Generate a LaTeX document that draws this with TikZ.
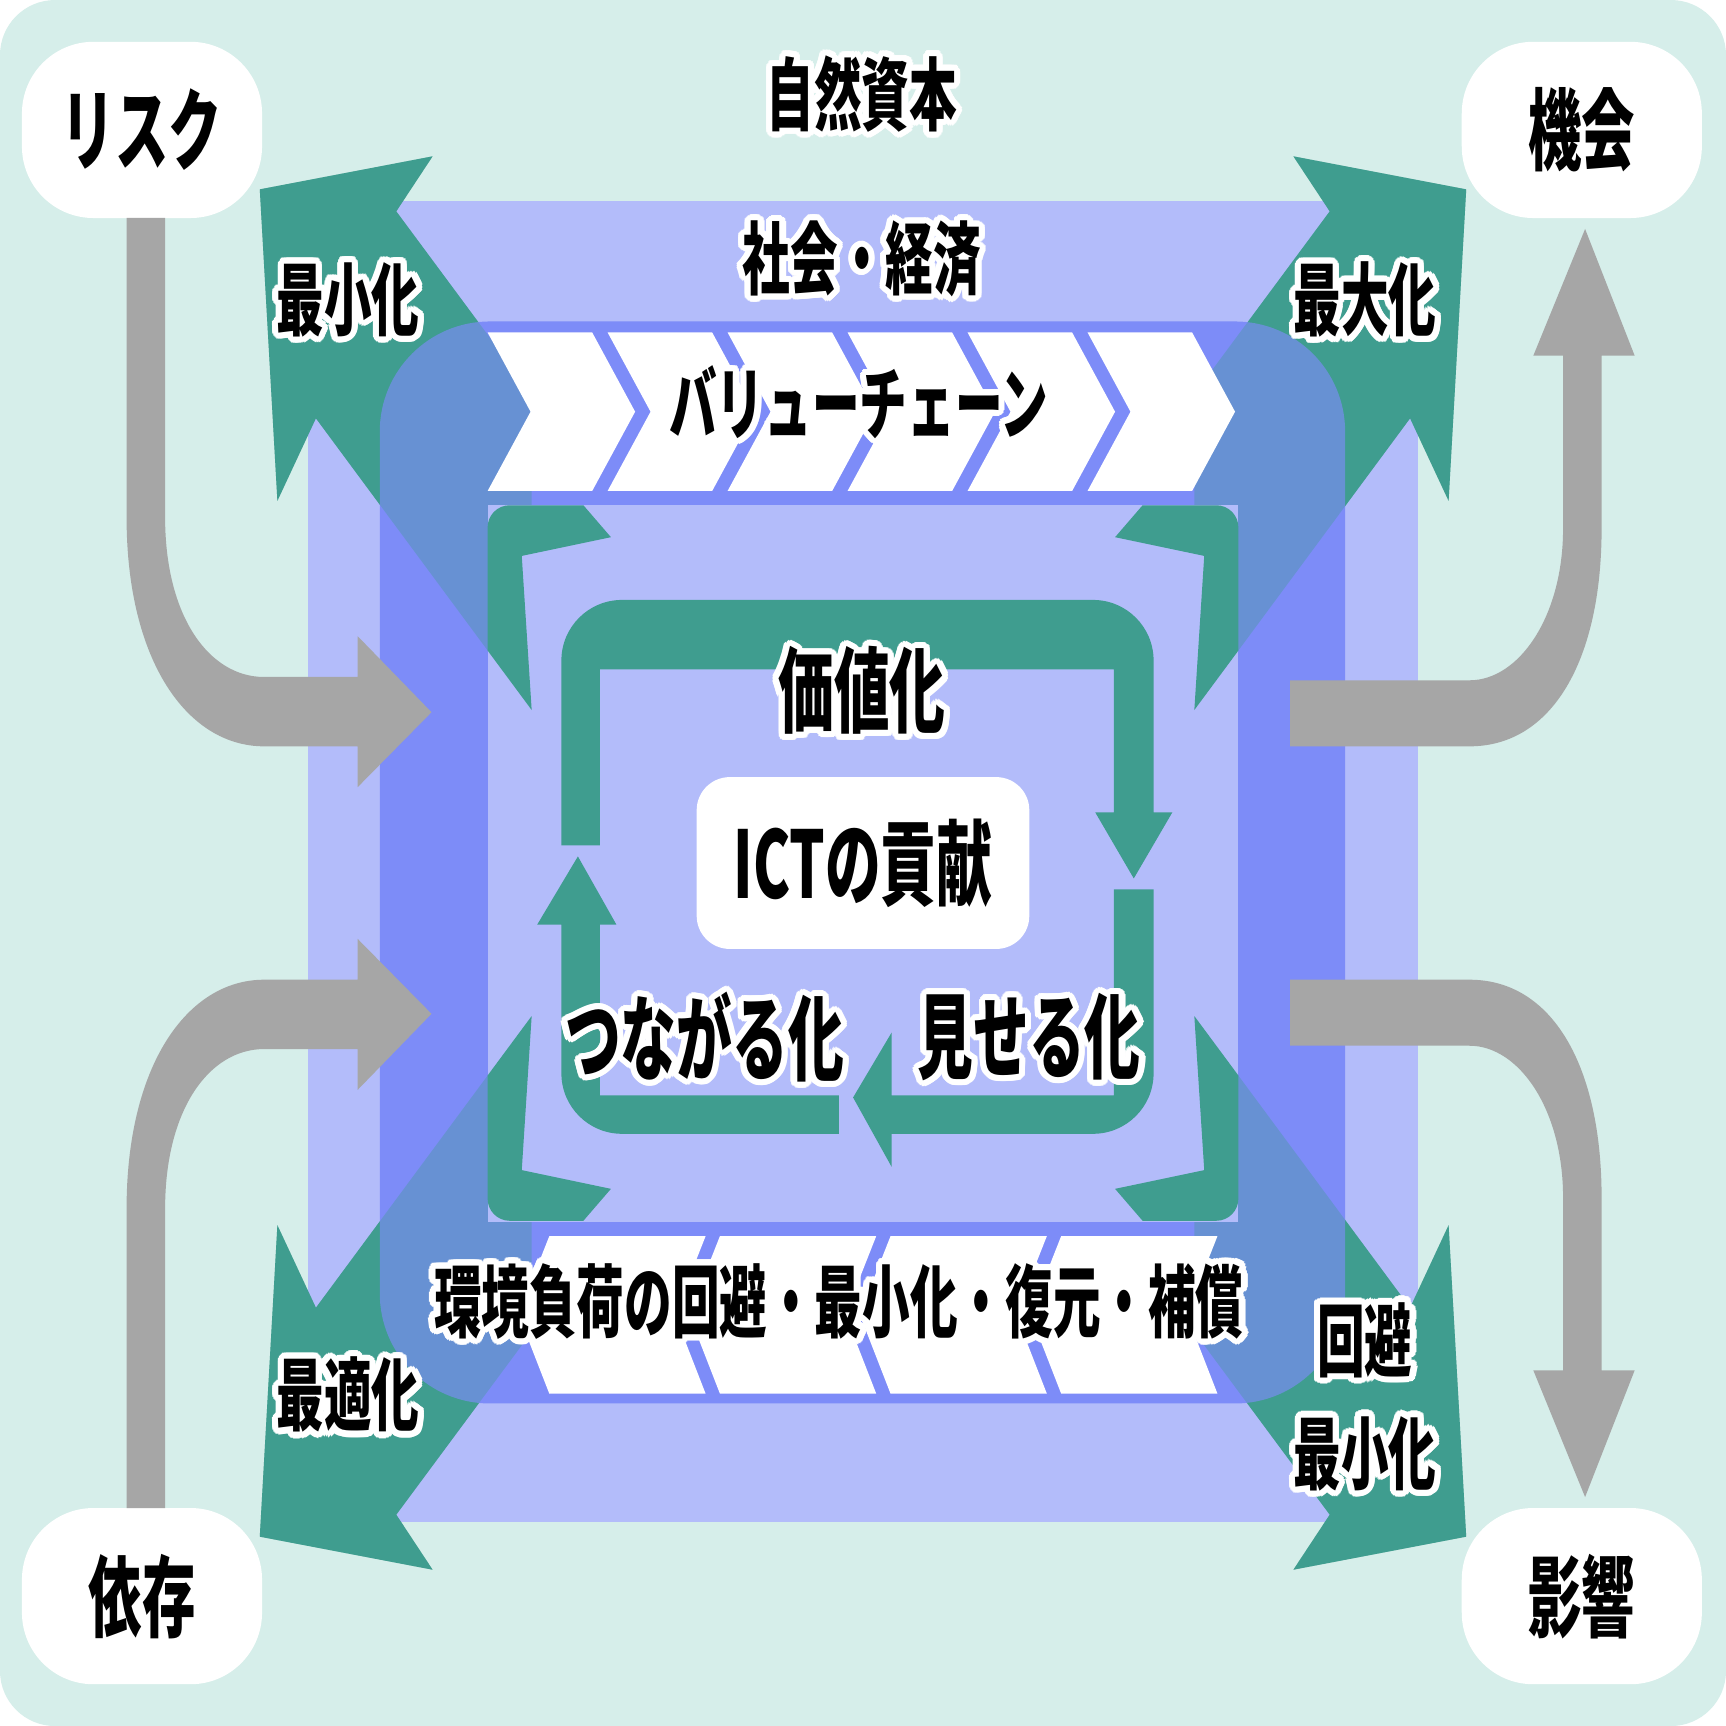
\documentclass[tikz,border=0pt]{standalone}
\usepackage{fontspec}
\newfontfamily\jp{Noto Sans CJK JP}[FakeStretch=0.6]
\usepackage[copies]{contour}
\contourlength{1.6pt}
\contournumber{24}
\usetikzlibrary{positioning}
\definecolor{bgmint}{HTML}{D6EEEA}
\definecolor{paleblue}{HTML}{B3BCFA}
\definecolor{midblue}{HTML}{7D8CF8}
\definecolor{teal}{HTML}{3F9D8F}
\definecolor{arrowgray}{HTML}{A6A6A6}
\newcommand{\glowtext}[1]{\contour{white}{#1}}

\begin{document}
\begin{tikzpicture}[x=0.01cm,y=-0.01cm]
        \tikzset{
            lbl/.style={font=\jp\bfseries\fontsize{20.5}{24}\selectfont, inner sep=0pt},
            biglbl/.style={font=\jp\bfseries\fontsize{24}{28}\selectfont, inner sep=0pt},
            cornerbox/.style={
                    fill=white,
                    rounded corners=0.65cm,
                    minimum width=2.18cm,
                    minimum height=1.6cm,
                    font=\jp\bfseries\fontsize{23}{28}\selectfont
                },
            greenarrow/.style={fill=teal},
            grayarrow/.style={fill=arrowgray},
            chevron/.style={fill=white}
        }
        \useasboundingbox (0,0) rectangle (1568,1568);
        \fill[white] (0,0) rectangle (1568,1568);
        \fill[bgmint, rounded corners=0.5cm] (0,0) rectangle (1568,1568);
        \fill[paleblue] (280,183) rectangle (1288,1383);
        % diagonal arrows, solid
        \foreach \sx/\sy in {1/1,-1/1,1/-1,-1/-1}{
            \begin{scope}[shift={(784,784)},xscale=\sx,yscale=\sy,shift={(-784,-784)}]
                \fill[greenarrow] (236,172) -- (393,142) -- (360,192) -- (483,358) -- (483,645) -- (287,380) -- (252,455) -- cycle;
            \end{scope}
        }
        \fill[midblue, rounded corners=1cm] (345,292) rectangle (1222,1275);
        % diagonal arrows seen through
        \foreach \sx/\sy in {1/1,-1/1,1/-1,-1/-1}{
            \begin{scope}[shift={(784,784)},xscale=\sx,yscale=\sy,shift={(-784,-784)}]
                \fill[greenarrow, fill opacity=0.35] (236,172) -- (393,142) -- (360,192) -- (483,358) -- (483,645) -- (287,380) -- (252,455) -- cycle;
            \end{scope}
        }
        \fill[paleblue] (443,459) rectangle (1125,1110);
        % brackets
        \foreach \sx/\sy in {1/1,-1/1,1/-1,-1/-1}{
            \begin{scope}[shift={(784,784)},xscale=\sx,yscale=\sy,shift={(-784,-784)}]
                \fill[greenarrow] (443,591) [rounded corners=0.2cm] -- (443,459) [sharp corners] -- (530,459) -- (555,488) -- (474,505) -- (483,645) -- cycle;
            \end{scope}
        }
        % value chain
        \foreach \i in {0,...,5}{
            \fill[chevron] ({443+109*\i},302) -- ({538+109*\i},302) -- ({577+109*\i},374) -- ({538+109*\i},446) -- ({443+109*\i},446) -- ({482+109*\i},374) -- cycle;
        }
        \foreach \i in {0,...,3}{
            \fill[chevron] ({499+155*\i},1123) -- ({641+155*\i},1123) -- ({613+155*\i},1194) -- ({641+155*\i},1266) -- ({499+155*\i},1266) -- ({471+155*\i},1194) -- cycle;
        }
        % inner loop
        \fill[greenarrow] (510,768) [rounded corners=0.55cm] -- (510,545) -- (1048,545) [sharp corners] -- (1048,738) -- (1065,738) -- (1030,798) -- (995,738) -- (1012,738) -- (1012,608) -- (545,608) -- (545,768) -- cycle;
        \fill[greenarrow] (1012,808) -- (1048,808) [rounded corners=0.55cm] -- (1048,1030) [sharp corners] -- (810,1030) -- (810,1060) -- (775,997) -- (810,938) -- (810,995) -- (1012,995) -- cycle;
        \fill[greenarrow] (762,995) -- (762,1030) [rounded corners=0.55cm] -- (510,1030) [sharp corners] -- (510,840) -- (488,840) -- (525,778) -- (560,840) -- (545,840) -- (545,995) -- cycle;
        % corner boxes
        \node[cornerbox] (risk) at (129,118) {リスク};
        \node[cornerbox] (chance) at (1437,118) {機会};
        \node[cornerbox] (depend) at (129,1450) {依存};
        \node[cornerbox] (impact) at (1437,1450) {影響};
        % gray arrows
        \foreach \sy in {1,-1}{
            \begin{scope}[shift={(784,784)},yscale=\sy,shift={(-784,-784)}]
                \fill[grayarrow] (115,198) -- (115,470) .. controls (115,600) and (170,678) .. (240,678) -- (325,678) -- (325,715) -- (392,647) -- (325,578) -- (325,615) -- (240,615) .. controls (190,615) and (150,560) .. (150,470) -- (150,198) -- cycle;
                \fill[grayarrow] (1172,678) -- (1335,678) .. controls (1410,678) and (1455,600) .. (1455,480) -- (1455,323) -- (1485,323) -- (1440,208) -- (1393,323) -- (1420,323) -- (1420,480) .. controls (1420,560) and (1380,618) .. (1335,618) -- (1172,618) -- cycle;
            \end{scope}
        }
        % labels
        \node[lbl] (nature) at (783,88) {\glowtext{自然資本}};
        \node[lbl] (society) at (783,238) {\glowtext{社会・経済}};
        \node[lbl] (chain) at (780,368) {\glowtext{バリューチェーン}};
        \node[lbl] (minimise) at (316,275) {\glowtext{最小化}};
        \node[lbl] (maximise) at (1240,275) {\glowtext{最大化}};
        \node[lbl] (optimise) at (316,1270) {\glowtext{最適化}};
        \node[lbl] (avoid) at (1240,1220) {\glowtext{回避}};
        \node[lbl, below=0.28cm of avoid] (reduce) {\glowtext{最小化}};
        \node[lbl] (load) at (762,1185) {\glowtext{環境負荷の回避・最小化・復元・補償}};
        \node[biglbl] (value) at (783,630) {\glowtext{価値化}};
        \node[fill=white, rounded corners=0.3cm, minimum width=3.02cm, minimum height=1.56cm, biglbl] (ict) at (784,784) {ICTの貢献};
        \node[biglbl] (connect) at (640,945) {\glowtext{つながる化}};
        \node[biglbl] (show) at (935,945) {\glowtext{見せる化}};
    \end{tikzpicture}
\end{document}
